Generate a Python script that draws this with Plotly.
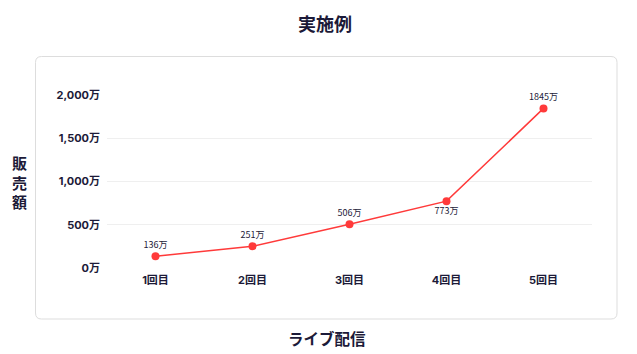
import plotly.graph_objects as go

categories = ["1回目", "2回目", "3回目", "4回目", "5回目"]
sales = [136, 251, 506, 773, 1845]
label_pos = ["top center", "top center", "top center", "bottom center", "top center"]
y_ticks = [0, 500, 1000, 1500, 2000]
y_tick_labels = ["0万", "500万", "1,000万", "1,500万", "2,000万"]

W, H = 637, 354
L, R, T, B = 107, 592, 95, 268
dark = "#1c1a38"

fig = go.Figure()
fig.add_trace(go.Scatter(
    x=categories, y=sales, mode="lines+markers+text",
    line=dict(color="#ff3a3a", width=1.5),
    marker=dict(color="#ff3a3a", size=8),
    text=[f"{v}万" for v in sales], textposition=label_pos,
    textfont=dict(family="Noto Sans CJK JP, Noto Sans", size=9, color=dark),
    cliponaxis=False, hoverinfo="skip",
))

def px2paper(x, y):
    return (x - L) / (R - L), (B - y) / (B - T)

def rounded_rect(x0, y0, x1, y1, r):
    def P(x, y):
        px, py = px2paper(x, y)
        return f"{px:.5f},{py:.5f}"
    return (f"M {P(x0 + r, y0)} L {P(x1 - r, y0)} Q {P(x1, y0)} {P(x1, y0 + r)} "
            f"L {P(x1, y1 - r)} Q {P(x1, y1)} {P(x1 - r, y1)} "
            f"L {P(x0 + r, y1)} Q {P(x0, y1)} {P(x0, y1 - r)} "
            f"L {P(x0, y0 + r)} Q {P(x0, y0)} {P(x0 + r, y0)} Z")

fig.add_shape(type="path", xref="paper", yref="paper",
              path=rounded_rect(35.5, 56.5, 617, 319, 6),
              line=dict(color="#dddddd", width=1), fillcolor="rgba(0,0,0,0)", layer="below")

def ann(text, x, y, size):
    px, py = px2paper(x, y)
    fig.add_annotation(text=text, x=px, y=py, xref="paper", yref="paper", showarrow=False,
                       xanchor="center", yanchor="middle",
                       font=dict(family="Noto Sans CJK JP", size=size, color=dark))

ann("<b>実施例</b>", 325, 22.5, 18)
ann("<b>ライブ配信</b>", 327, 338, 15.5)
ann("<b>販<br>売<br>額</b>", 19, 182, 15)

fig.update_layout(
    width=W, height=H,
    margin=dict(l=L, r=W - R, t=T, b=H - B),
    paper_bgcolor="white", plot_bgcolor="white",
    showlegend=False,
    font=dict(family="Poppins, Inter, Noto Sans CJK JP", color=dark),
    xaxis=dict(range=[-0.5, 4.5], showgrid=False, zeroline=False, showline=False,
               tickfont=dict(size=11, family="Inter, Noto Sans CJK JP", weight="bold"),
               ticks="", ticklabelstandoff=4, fixedrange=True),
    yaxis=dict(range=[0, 2000], tickvals=y_ticks, ticktext=y_tick_labels,
               gridcolor="#efefef", gridwidth=1, zeroline=False, showline=False,
               tickfont=dict(size=11, family="Inter, Noto Sans CJK JP", weight="bold"),
               ticks="", ticklabelstandoff=6, fixedrange=True),
)

fig.write_html("out.html")
